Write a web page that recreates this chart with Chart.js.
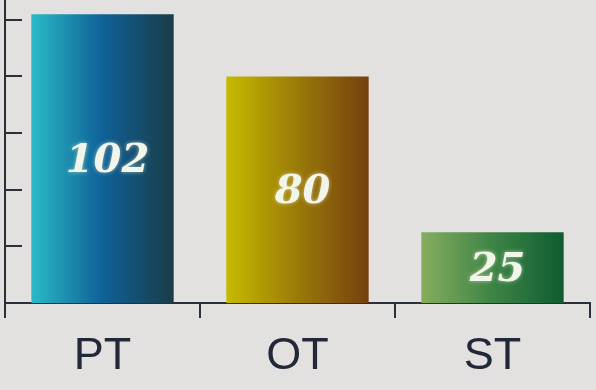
<!DOCTYPE html>
<html>
<head>
<meta charset="utf-8">
<script src="https://cdn.jsdelivr.net/npm/chart.js@4/dist/chart.umd.min.js"></script>
<style>
  html, body { margin:0; padding:0; background:#e2e1df; }
  #wrap { width:596px; height:390px; }
</style>
</head>
<body>
<div id="wrap"><canvas id="c" width="596" height="390"></canvas></div>
<script>
// ===== data =====
const categories = ['PT', 'OT', 'ST'];
const values = [102, 80, 25];
const yTicks = [20, 40, 60, 80, 100];
const gradients = [
  ['#2bbac6', '#0f6198', '#1b3c46'],
  ['#c6ba00', '#9a7a08', '#74400f'],
  ['#86ad5e', '#3e8446', '#0d5c30']
];

const AXIS = '#2b2f3a';
const BAR_PCT = 0.73;

// left-to-right gradient for each bar, built from the x scale
function barFill(c) {
  const chart = c.chart, xs = chart.scales.x;
  if (!chart.chartArea || !xs) return gradients[c.dataIndex][1];
  const cx = xs.getPixelForValue(c.dataIndex);
  const half = xs.width / categories.length * BAR_PCT / 2;
  const g = chart.ctx.createLinearGradient(cx - half, 0, cx + half, 0);
  const stops = gradients[c.dataIndex];
  stops.forEach((col, k) => g.addColorStop(k / (stops.length - 1), col));
  return g;
}

// inward tick marks on the y axis
const yInnerTicks = {
  id: 'yInnerTicks',
  afterDraw(chart) {
    const ctx = chart.ctx, y = chart.scales.y, left = chart.chartArea.left;
    ctx.save();
    ctx.strokeStyle = AXIS;
    ctx.lineWidth = 2;
    yTicks.forEach(v => {
      const py = Math.round(y.getPixelForValue(v));
      ctx.beginPath();
      ctx.moveTo(left, py);
      ctx.lineTo(left + 17, py);
      ctx.stroke();
    });
    ctx.restore();
  }
};

// value labels in the middle of each bar
const barLabels = {
  id: 'barLabels',
  afterDatasetsDraw(chart) {
    const ctx = chart.ctx;
    ctx.save();
    ctx.font = 'italic bold 40px "DejaVu Serif", serif';
    ctx.textAlign = 'center';
    ctx.textBaseline = 'middle';
    ctx.fillStyle = '#f2f6ea';
    ctx.shadowColor = 'rgba(255,255,220,0.55)';
    ctx.shadowBlur = 4;
    chart.getDatasetMeta(0).data.forEach((el, i) => {
      const my = (el.y + el.base) / 2 + 3;
      ctx.fillText(String(values[i]), el.x + 5, my);
    });
    ctx.restore();
  }
};

new Chart(document.getElementById('c'), {
  type: 'bar',
  data: {
    labels: categories,
    datasets: [{
      data: values,
      backgroundColor: barFill,
      borderWidth: 0,
      barPercentage: BAR_PCT,
      categoryPercentage: 1
    }]
  },
  options: {
    responsive: false,
    animation: false,
    layout: { padding: { left: 0, right: 6, top: 0, bottom: 0 } },
    plugins: { legend: { display: false }, tooltip: { enabled: false } },
    scales: {
      x: {
        offset: true,
        grid: { offset: true, drawOnChartArea: false, tickLength: 15, color: AXIS, lineWidth: 2 },
        border: { color: AXIS, width: 2 },
        ticks: { color: '#222838', padding: 12, font: { family: '"Liberation Sans", Arial, sans-serif', size: 45 } },
        afterFit(s) { s.height = 87; }
      },
      y: {
        min: 0,
        max: 107,
        ticks: { display: false, stepSize: 20 },
        grid: { display: false },
        border: { color: AXIS, width: 2 },
        afterFit(s) { s.width = 5; }
      }
    }
  },
  plugins: [yInnerTicks, barLabels]
});
</script>
</body>
</html>
